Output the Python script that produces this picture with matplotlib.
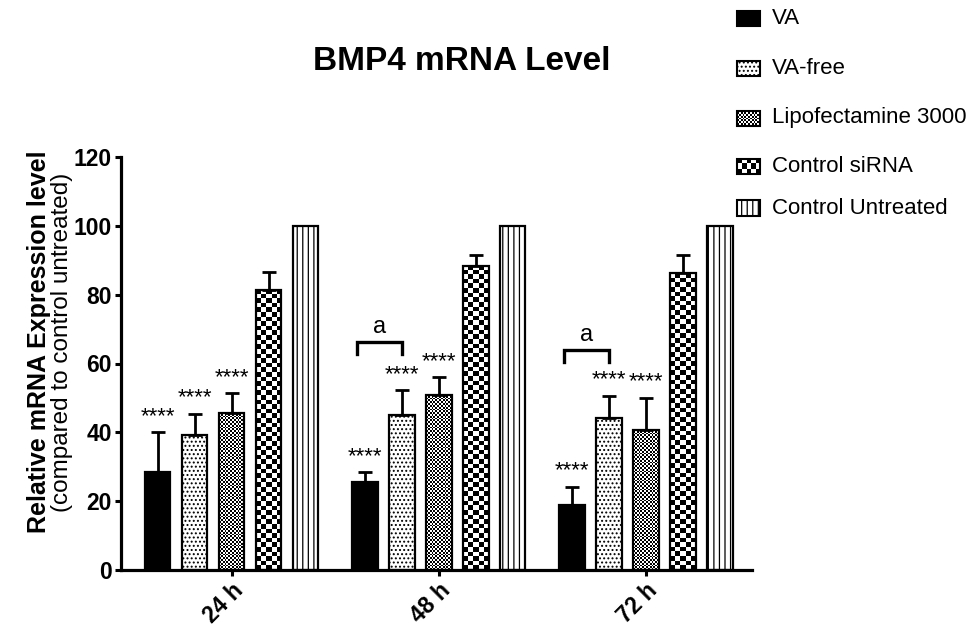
import numpy as np
import matplotlib.pyplot as plt
from matplotlib.patches import Rectangle

plt.rcParams['font.family'] = ['Liberation Sans', 'DejaVu Sans']
plt.rcParams['hatch.linewidth'] = 0.9

# data
groups = ["24 h", "48 h", "72 h"]
series = ["VA", "VA-free", "Lipofectamine 3000", "Control siRNA", "Control Untreated"]
va = [28.5, 25.6, 18.9]
va_err = [11.6, 2.9, 5.3]
va_free = [39.3, 45.0, 44.1]
va_free_err = [6.1, 7.3, 6.6]
lipo = [45.7, 50.9, 40.7]
lipo_err = [5.7, 5.1, 9.4]
sirna = [81.5, 88.4, 86.2]
sirna_err = [5.0, 3.0, 5.2]
untreated = [100, 100, 100]
untreated_err = [0, 0, 0]
stars = ["****", "****", "****", "", ""]
bracket_groups = [1, 2]
bracket_y = [66.3, 64.0]

values = [va, va_free, lipo, sirna, untreated]
errors = [va_err, va_free_err, lipo_err, sirna_err, untreated_err]

# look of each series: facecolor, hatch, checker cell size in px (None = no checker)
styles = [
    dict(fc="black", hatch=None, cell=None),
    dict(fc="white", hatch="....", cell=None),
    dict(fc="none", hatch=None, cell=1.8),
    dict(fc="none", hatch=None, cell=4.6),
    dict(fc="white", hatch="|||", cell=None),
]

fig = plt.figure(figsize=(9.76, 6.29), dpi=100)
ax = fig.add_axes([121 / 976, 1 - 570 / 629, (752 - 121) / 976, (570 - 157) / 629])
ax.set_xlim(-0.536, 2.512)
ax.set_ylim(0, 120)


def checker_fill(axis, patch, cell):
    x0, y0 = patch.get_x(), patch.get_y()
    w, h = patch.get_width(), patch.get_height()
    p0 = axis.transData.transform((x0, y0))
    p1 = axis.transData.transform((x0 + w, y0 + h))
    nx = max(1, int(round((p1[0] - p0[0]) / cell)))
    ny = max(1, int(round((p1[1] - p0[1]) / cell)))
    grid = np.add.outer(np.arange(ny), np.arange(nx)) % 2
    im = axis.imshow(grid, cmap="gray", extent=(x0, x0 + w, y0, y0 + h), origin="lower",
                     interpolation="nearest", aspect="auto", zorder=1)
    im.set_clip_path(patch)


step = 0.1787
width = 0.121
x = np.arange(len(groups))
for i, (vals, errs, st) in enumerate(zip(values, errors, styles)):
    pos = x + (i - 2) * step
    bars = ax.bar(pos, vals, width, facecolor=st["fc"], edgecolor="black", linewidth=1.6,
                  hatch=st["hatch"], zorder=2)
    if st["cell"]:
        for b in bars:
            checker_fill(ax, b, st["cell"])
    if any(errs):
        ax.errorbar(pos, vals, yerr=[np.zeros(len(errs)), errs], fmt="none", ecolor="black",
                    elinewidth=2, capsize=5, capthick=2, zorder=3)
    if stars[i]:
        for px, v, e in zip(pos, vals, errs):
            ax.text(px, v + e + 1.5, stars[i], ha="center", va="bottom", fontsize=16)

# significance brackets between VA and VA-free
for g, by in zip(bracket_groups, bracket_y):
    xa = g - 2 * step - 0.04
    xb = g - step
    ax.plot([xa, xa, xb, xb], [by - 3.6, by, by, by - 3.6], color="black", lw=2.4,
            solid_joinstyle="miter", zorder=3)
    ax.text((xa + xb) / 2, by + 1.2, "a", ha="center", va="bottom", fontsize=17)

ax.set_xlim(-0.536, 2.512)
ax.set_ylim(0, 120)
ax.set_yticks(np.arange(0, 121, 20))
ax.set_xticks(x)
ax.set_xticklabels(groups, rotation=45, ha="right", rotation_mode="anchor",
                   fontsize=16.5, fontweight="bold")
for lab in ax.get_yticklabels():
    lab.set_fontsize(16.5)
    lab.set_fontweight("bold")
ax.tick_params(width=2.2, length=4.5, pad=2)
for s in ["top", "right"]:
    ax.spines[s].set_visible(False)
for s in ["left", "bottom"]:
    ax.spines[s].set_linewidth(2.3)

# titles and axis label
fig.text(462 / 976, 1 - 62 / 629, "BMP4 mRNA Level", ha="center", va="center",
         fontsize=24, fontweight="bold")
fig.text(39 / 976, 1 - 342 / 629, "Relative mRNA Expression level", rotation=90,
         ha="center", va="center", fontsize=18, fontweight="bold")
fig.text(62 / 976, 1 - 342 / 629, "(compared to control untreated)", rotation=90,
         ha="center", va="center", fontsize=17.5)

# legend drawn by hand so the checker swatches match the bars
row_y = [18, 68, 118, 166, 208]
for name, st, yc in zip(series, styles, row_y):
    lax = fig.add_axes([737 / 976, 1 - (yc + 7.5) / 629, 23 / 976, 15 / 629])
    lax.set_xlim(0, 1)
    lax.set_ylim(0, 1)
    lax.axis("off")
    r = Rectangle((0, 0), 1, 1, facecolor=st["fc"], edgecolor="black", linewidth=1.5,
                  hatch=st["hatch"], clip_on=False, zorder=2)
    lax.add_patch(r)
    if st["cell"]:
        checker_fill(lax, r, st["cell"])
        lax.set_xlim(0, 1)
        lax.set_ylim(0, 1)
    fig.text(772 / 976, 1 - yc / 629, name, ha="left", va="center", fontsize=16)

fig.savefig("out.png", dpi=100)
